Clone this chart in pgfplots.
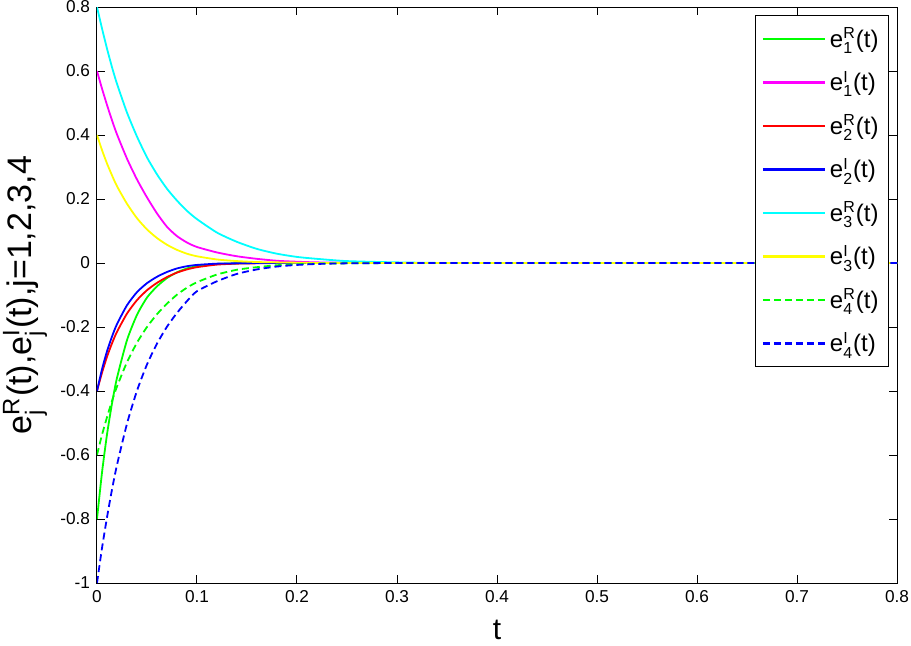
\documentclass[border=0pt]{standalone}
\usepackage{fontspec}
\setmainfont{Liberation Sans}
\usepackage{amsmath}
\usepackage{pgfplots}
\pgfplotsset{compat=1.18}
\usepackage{pgfplotstable}

\definecolor{mgreen}{rgb}{0,1,0}
\definecolor{mmagenta}{rgb}{1,0,1}
\definecolor{mred}{rgb}{1,0,0}
\definecolor{mblue}{rgb}{0,0,1}
\definecolor{mcyan}{rgb}{0,1,1}
\definecolor{myellow}{rgb}{1,1,0}

% error e^{#1}_{#2} in text font
\newcommand{\ee}[2]{\ensuremath{\text{e}^{\text{#1}}_{\text{#2}}}}

% synchronisation errors
\pgfplotstableread{
t     e1R    e1I    e2R    e2I    e3R    e3I    e4R    e4I
0     -0.800 0.600  -0.400 -0.400 0.800  0.400  -0.600 -1.000
0.005 -0.655 0.545  -0.343 -0.332 0.733  0.353  -0.537 -0.891
0.01  -0.536 0.494  -0.293 -0.276 0.670  0.311  -0.482 -0.795
0.015 -0.439 0.446  -0.251 -0.230 0.612  0.274  -0.431 -0.708
0.02  -0.359 0.402  -0.215 -0.191 0.560  0.240  -0.386 -0.631
0.03  -0.241 0.326  -0.158 -0.132 0.470  0.185  -0.310 -0.502
0.04  -0.162 0.261  -0.116 -0.091 0.395  0.140  -0.249 -0.399
0.05  -0.108 0.205  -0.085 -0.063 0.330  0.105  -0.200 -0.317
0.06  -0.073 0.155  -0.062 -0.043 0.277  0.078  -0.160 -0.252
0.07  -0.047 0.113  -0.044 -0.028 0.232  0.057  -0.127 -0.199
0.08  -0.029 0.084  -0.030 -0.017 0.195  0.041  -0.099 -0.156
0.09  -0.017 0.064  -0.020 -0.010 0.163  0.029  -0.077 -0.119
0.1   -0.010 0.050  -0.013 -0.006 0.137  0.021  -0.060 -0.088
0.12  -0.003 0.033  -0.005 -0.002 0.095  0.011  -0.036 -0.057
0.14  -0.001 0.021  -0.002 -0.001 0.066  0.006  -0.021 -0.034
0.16  0      0.013  -0.001 0      0.044  0.003  -0.013 -0.020
0.18  0      0.007  0      0      0.029  0.002  -0.007 -0.011
0.2   0      0.004  0      0      0.019  0.001  -0.004 -0.006
0.22  0      0.002  0      0      0.013  0      -0.002 -0.003
0.25  0      0.001  0      0      0.006  0      -0.001 -0.001
0.3   0      0      0      0      0.002  0      0      0
0.35  0      0      0      0      0      0      0      0
0.4   0      0      0      0      0      0      0      0
0.5   0      0      0      0      0      0      0      0
0.6   0      0      0      0      0      0      0      0
0.7   0      0      0      0      0      0      0      0
0.8   0      0      0      0      0      0      0      0
}\errdata

\begin{document}
\begin{tikzpicture}
\begin{axis}[
    scale only axis,
    width=400pt, height=288pt,
    xmin=0, xmax=0.8, ymin=-1, ymax=0.8,
    xtick={0,0.1,...,0.8},
    ytick={-1,-0.8,...,0.8},
    tick align=inside,
    major tick length=4pt,
    axis line style={line width=0.5pt, black},
    every tick/.style={black, line width=0.5pt},
    /pgf/number format/assume math mode=true,
    /pgf/number format/fixed,
    ticklabel style={font=\fontsize{8.6}{10}\selectfont},
    xlabel={t},
    ylabel={\ee{R}{j}(t),\ee{I}{j}(t),j=1,2,3,4},
    xlabel style={font=\fontsize{15}{17}\selectfont, at={(axis description cs:0.5,0)}, anchor=center, yshift=-23.5pt},
    ylabel style={font=\fontsize{17}{19}\selectfont, at={(axis description cs:-0.09,0.5)}, anchor=center},
    legend cell align=left,
    legend image code/.code={\draw[#1, line width=1.1pt] (0pt,0pt) -- (31pt,0pt);},
    legend style={at={(0.99,0.986)}, anchor=north east, draw=black, line width=0.5pt,
        font=\fontsize{12}{14}\selectfont, row sep=6.4pt, inner xsep=3pt, inner ysep=4pt},
    every axis plot/.append style={line width=0.9pt, smooth, tension=0.4},
]
\addplot[mgreen] table[x=t, y=e1R] {\errdata};
\addlegendentry{\ee{R}{1}(t)}
\addplot[mmagenta] table[x=t, y=e1I] {\errdata};
\addlegendentry{\ee{I}{1}(t)}
\addplot[mred] table[x=t, y=e2R] {\errdata};
\addlegendentry{\ee{R}{2}(t)}
\addplot[mblue] table[x=t, y=e2I] {\errdata};
\addlegendentry{\ee{I}{2}(t)}
\addplot[mcyan] table[x=t, y=e3R] {\errdata};
\addlegendentry{\ee{R}{3}(t)}
\addplot[myellow] table[x=t, y=e3I] {\errdata};
\addlegendentry{\ee{I}{3}(t)}
\addplot[mgreen, dash pattern=on 3.5pt off 2pt] table[x=t, y=e4R] {\errdata};
\addlegendentry{\ee{R}{4}(t)}
\addplot[mblue, dash pattern=on 3.5pt off 2pt] table[x=t, y=e4I] {\errdata};
\addlegendentry{\ee{I}{4}(t)}
\end{axis}
\pgfresetboundingbox
\path (current axis.south west) ++(-48.5pt,-31pt) rectangle ++(455.5pt,322.5pt);
\end{tikzpicture}
\end{document}
